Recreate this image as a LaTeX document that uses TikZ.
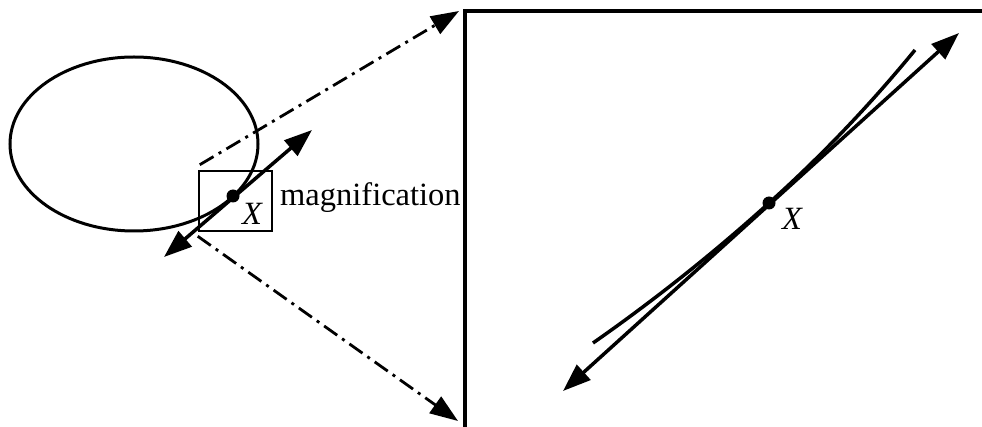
\documentclass[tikz,border=0pt]{standalone}
\usepackage{fontspec}
\setmainfont{Liberation Serif}
\usetikzlibrary{arrows.meta,calc}
\tikzset{
  bigtip/.tip={Triangle[length=28pt,width=20pt]},
  tangent/.style={line width=3.5pt,{bigtip}-{bigtip}},
  zoomline/.style={line width=2.8pt,dash pattern=on 16pt off 6pt on 3pt off 6pt,-{bigtip}},
  lbl/.style={inner sep=0pt,font=\fontsize{32.5}{40}\selectfont},
  ptdot/.style={circle,fill=black,inner sep=0pt,minimum size=13pt},
}
\begin{document}
\begin{tikzpicture}[x=1pt,y=-1pt]
\useasboundingbox (0,0) rectangle (982,427);
% left panel
\draw[line width=3pt] (134,144) ellipse [x radius=124pt, y radius=87pt];
\node[draw,line width=2.5pt,minimum width=73pt,minimum height=60pt,inner sep=0pt] (sbox) at (235.5,201) {};
\coordinate (la1) at (164,257);
\coordinate (la2) at (312,130);
\draw[tangent] (la1) -- (la2);
\node[ptdot] (ldot) at (233,196) {};
\node[lbl,anchor=base west] (lx) at (242,225) {\itshape X};
\node[lbl,anchor=base west] (mag) at (280,206) {magnification};
% big panel
\coordinate (bnw) at (465,11);
\coordinate (bne) at (982,11);
\coordinate (bsw) at (465,427);
\draw[line width=3.2pt] (bne) -- (bnw) -- (bsw);
\coordinate (t1) at (459,11);
\coordinate (t2) at (458,421);
\draw[zoomline] ([xshift=2pt,yshift=5pt]sbox.north west) -- (t1);
\draw[zoomline] ([yshift=-4pt]sbox.south west) -- (t2);
% right panel
\coordinate (ra1) at (563,391);
\coordinate (ra2) at (959,33);
\coordinate (ce1) at (593,343);
\coordinate (ce2) at (915,50);
\node[ptdot] (rdot) at (769,203) {};
\draw[line width=3.5pt] (ce1) .. controls (655,299.7) and (713.7,253) .. (rdot.center)
  .. controls (821,156.3) and (869.7,105.3) .. (ce2);
\draw[tangent] (ra1) -- (ra2);
\node[lbl,anchor=base west] (rx) at (782,230) {\itshape X};
\end{tikzpicture}
\end{document}
